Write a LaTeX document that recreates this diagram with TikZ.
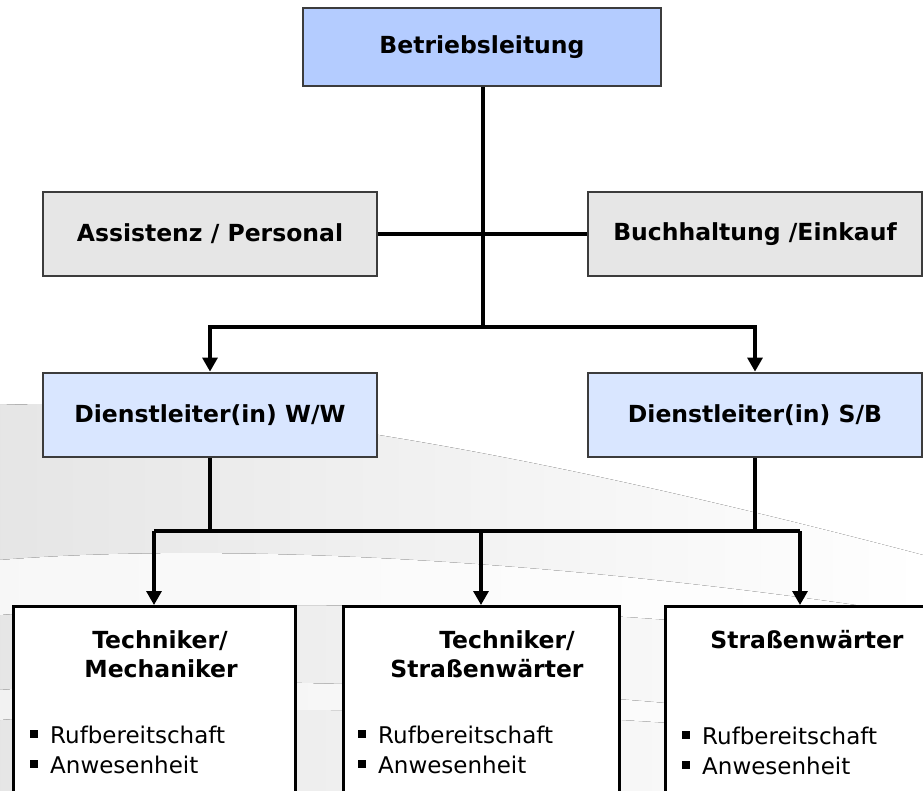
\documentclass[tikz,border=0pt]{standalone}
\usepackage{fontspec}
\setmainfont{DejaVu Sans}
\usetikzlibrary{arrows.meta}
\definecolor{topblue}{HTML}{B4CCFF}
\definecolor{lightblue}{HTML}{D9E6FF}
\definecolor{boxgray}{HTML}{E6E6E6}
\definecolor{edgegray}{HTML}{3C3C3C}
\begin{document}
\begin{tikzpicture}[x=1pt,y=-1pt,
  box/.style={draw=edgegray, line width=2.8pt, rectangle, inner sep=0pt,
    minimum width=334pt, minimum height=84pt,
    font=\fontsize{23.5}{28}\selectfont\bfseries, text=black},
  unitbox/.style={draw=black, line width=3pt, fill=white, rectangle, inner sep=0pt,
    minimum height=240pt, anchor=north},
  hdr/.style={anchor=base, inner sep=0pt, font=\fontsize{23.5}{28}\selectfont\bfseries},
  item/.style={anchor=base west, inner sep=0pt, font=\fontsize{23}{28}\selectfont},
  sq/.style={fill=black, inner sep=0pt, minimum size=7.5pt},
  conn/.style={line width=3.2pt, draw=black},
  arr/.style={conn, -{Triangle[width=15pt,length=14pt]}}]
\useasboundingbox (0,0) rectangle (923,791);
\clip (0,0) rectangle (923,791);
% background swoosh
\fill[left color=black!10, right color=white]
  (0,405) .. controls (250,395) and (600,470) .. (923,555)
  -- (923,791) -- (0,791) -- cycle;
\fill[left color=black!3, right color=white]
  (0,560) .. controls (250,540) and (600,565) .. (923,615)
  -- (923,645) .. controls (600,605) and (250,595) .. (0,615) -- cycle;
\fill[left color=black!5, right color=white]
  (0,690) .. controls (250,670) and (600,690) .. (923,730)
  -- (923,745) .. controls (600,710) and (250,700) .. (0,720) -- cycle;

% boxes
\node[box, fill=topblue, minimum width=358pt, minimum height=78pt] (top) at (482,47) {Betriebsleitung};
\node[box, fill=boxgray] (assist) at (210,234) {Assistenz / Personal};
\node[box, fill=boxgray] (buch) at (755,234) {Buchhaltung /Einkauf};
\node[box, fill=lightblue] (dlW) at (210,415) {Dienstleiter(in) W/W};
\node[box, fill=lightblue] (dlS) at (755,415) {Dienstleiter(in) S/B};

\node[unitbox, minimum width=282pt] (tl) at (154,605) {};
\node[unitbox, minimum width=276pt] (tm) at (481,605) {};
\node[unitbox, minimum width=270pt] (tr) at (800,605) {};

% connectors
\coordinate (j1) at (483,327);
\coordinate (bl) at (154,531);
\coordinate (br) at (800,531);
\draw[conn] (top.south -| j1) -- (j1);
\draw[conn] (assist.east) -- (buch.west);
\draw[arr] (j1) -| (dlW.north);
\draw[arr] (j1) -| (dlS.north);
\draw[conn] (dlW.south) -- (dlW.south |- bl);
\draw[conn] (dlS.south) -- (dlS.south |- br);
\draw[conn] (bl) -- (br);
\draw[arr] (bl) -- (tl.north);
\draw[arr] (tm.north |- bl) -- (tm.north);
\draw[arr] (br) -- (tr.north);

% texts in unit boxes
\node[hdr] (tl1) at (160,648) {Techniker/};
\node[hdr] (tl2) at (161,677) {Mechaniker};
\node[hdr] (tm1) at (507,648) {Techniker/};
\node[hdr] (tm2) at (487,677) {Straßenwärter};
\node[hdr] (tr1) at (807,648) {Straßenwärter};

\node[sq] (b1) at (34,734) {};
\node[sq] (b2) at (34,764) {};
\node[item] (i1) at (50,743) {Rufbereitschaft};
\node[item] (i2) at (50,773) {Anwesenheit};
\node[sq] (b3) at (362,734) {};
\node[sq] (b4) at (362,764) {};
\node[item] (i3) at (378,743) {Rufbereitschaft};
\node[item] (i4) at (378,773) {Anwesenheit};
\node[sq] (b5) at (686,735) {};
\node[sq] (b6) at (686,765) {};
\node[item] (i5) at (702,744) {Rufbereitschaft};
\node[item] (i6) at (702,774) {Anwesenheit};
\end{tikzpicture}
\end{document}
